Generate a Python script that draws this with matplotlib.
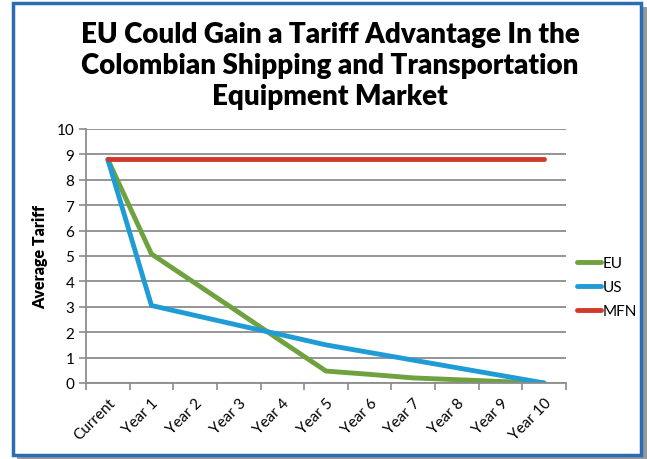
import numpy as np
import matplotlib
matplotlib.use("Agg")
import matplotlib.pyplot as plt
from matplotlib.patches import Rectangle

plt.rcParams['font.family'] = ['Lato', 'DejaVu Sans']

categories = ['Current', 'Year 1', 'Year 2', 'Year 3', 'Year 4', 'Year 5',
              'Year 6', 'Year 7', 'Year 8', 'Year 9', 'Year 10']
eu = [8.8, 5.08, 3.93, 2.78, 1.62, 0.47, 0.34, 0.2, 0.13, 0.06, 0.0]
us = [8.8, 3.05, 2.66, 2.27, 1.89, 1.5, 1.2, 0.9, 0.6, 0.3, 0.0]
mfn = [8.8] * 11

title = ('EU Could Gain a Tariff Advantage In the\n'
         'Colombian Shipping and Transportation\n'
         'Equipment Market')

fig = plt.figure(figsize=(6.47, 4.6), dpi=100)

# outer frame with a grey drop shadow
fig.patches.append(Rectangle((17 / 647, 0), 630 / 647, 1 - 8 / 460,
                             transform=fig.transFigure, facecolor='#9a9a9a',
                             edgecolor='none', zorder=0))
fig.patches.append(Rectangle((13 / 647, 4 / 460), 628 / 647, 452 / 460,
                             transform=fig.transFigure, facecolor='white',
                             edgecolor='#2a6db5', linewidth=2.5, zorder=1))

ax = fig.add_axes([86 / 647, 1 - 384 / 460, 480 / 647, 254 / 460])
ax.set_zorder(2)
ax.patch.set_alpha(0)

x = np.arange(len(categories))
ax.plot(x, eu, color='#6fa23e', lw=3.5, label='EU', solid_capstyle='round')
ax.plot(x, us, color='#1f9cd6', lw=3.5, label='US', solid_capstyle='round')
ax.plot(x, mfn, color='#d2392b', lw=3.5, label='MFN', solid_capstyle='round')

ax.set_xlim(-0.5, 10.5)
ax.set_ylim(0, 10)
ax.set_yticks(range(0, 11))
ax.grid(axis='y', color='#8c8c8c', lw=1.3)
ax.set_axisbelow(True)

ax.set_xticks(x)
ax.set_xticklabels(categories, rotation=45, ha='right', rotation_mode='anchor',
                   fontsize=11)
ax.tick_params(axis='x', which='major', length=0, pad=9)
ax.set_xticks(np.arange(-0.5, 11, 1), minor=True)
ax.tick_params(axis='x', which='minor', length=5, color='#8c8c8c', width=1.2)
ax.tick_params(axis='y', length=5, color='#8c8c8c', width=1.2, labelsize=11)

for s in ['top', 'right']:
    ax.spines[s].set_visible(False)
for s in ['left', 'bottom']:
    ax.spines[s].set_color('#8c8c8c')
    ax.spines[s].set_linewidth(1.3)

ax.set_ylabel('Average Tariff', fontsize=11.5, fontweight='heavy', labelpad=6)

ax.legend(loc='center left', bbox_to_anchor=(1.01, 0.378), frameon=False,
          handlelength=1.6, handletextpad=0.1, labelspacing=0.65, fontsize=11,
          borderaxespad=0)

fig.text(330 / 647, 1 - 66 / 460, title, ha='center', va='center',
         fontsize=20, fontweight='heavy', linespacing=1.25, zorder=3)

fig.savefig('out.png', dpi=100)
